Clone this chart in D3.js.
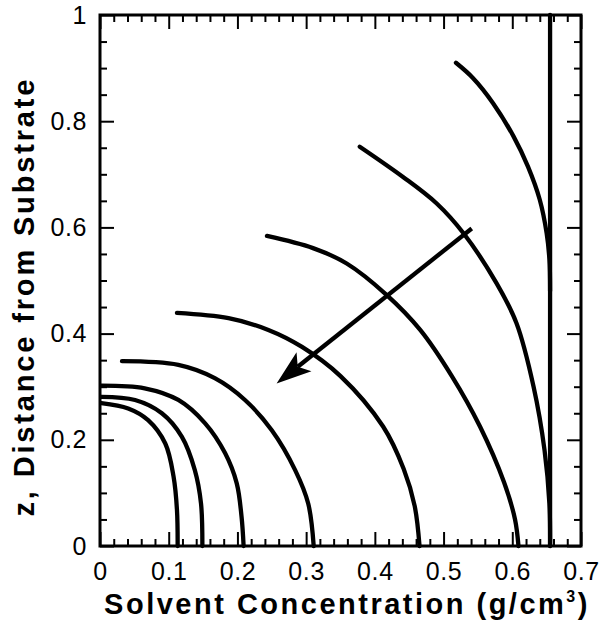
<!DOCTYPE html>
<html>
<head>
<meta charset="utf-8">
<script src="https://cdn.jsdelivr.net/npm/d3@7"></script>
<style>
  body { margin: 0; background: #fff; }
  text { font-family: "Liberation Sans", Arial, sans-serif; fill: #000; }
</style>
</head>
<body>
<svg id="chart" width="599" height="625"></svg>
<script>
// tick values and labels
var xTicks = [0, 0.1, 0.2, 0.3, 0.4, 0.5, 0.6, 0.7];
var xTickLabels = ["0", "0.1", "0.2", "0.3", "0.4", "0.5", "0.6", "0.7"];
var yTicks = [0, 0.2, 0.4, 0.6, 0.8, 1];
var yTickLabels = ["0", "0.2", "0.4", "0.6", "0.8", "1"];

// concentration profiles, [solvent concentration, z]
var profile1 = [[0.002, 0.269], [0.041, 0.259], [0.07, 0.237], [0.095, 0.193], [0.107, 0.131], [0.112, 0.068], [0.113, 0]];
var profile2 = [[0.002, 0.281], [0.051, 0.275], [0.09, 0.25], [0.119, 0.206], [0.138, 0.143], [0.147, 0.08], [0.149, 0]];
var profile3 = [[0.002, 0.302], [0.065, 0.297], [0.114, 0.275], [0.153, 0.231], [0.182, 0.175], [0.199, 0.118], [0.206, 0.055], [0.209, 0]];
var profile4 = [[0.032, 0.348], [0.114, 0.341], [0.167, 0.316], [0.211, 0.275], [0.25, 0.218], [0.284, 0.143], [0.303, 0.08], [0.311, 0]];
var profile5 = [[0.112, 0.439], [0.187, 0.429], [0.245, 0.407], [0.294, 0.375], [0.35, 0.32], [0.412, 0.225], [0.442, 0.145], [0.458, 0.075], [0.465, 0]];
var profile6 = [[0.243, 0.584], [0.31, 0.561], [0.359, 0.532], [0.417, 0.473], [0.466, 0.407], [0.512, 0.32], [0.553, 0.225], [0.588, 0.12], [0.604, 0.05], [0.609, 0]];
var profile7 = [[0.378, 0.752], [0.441, 0.695], [0.49, 0.645], [0.529, 0.589], [0.577, 0.495], [0.606, 0.42], [0.631, 0.3], [0.647, 0.18], [0.654, 0.08], [0.655, 0]];
var profile8 = [[0.518, 0.91], [0.543, 0.881], [0.572, 0.834], [0.602, 0.771], [0.623, 0.714], [0.64, 0.652], [0.65, 0.589], [0.654, 0.54], [0.655, 0.48]];
var profile0 = [[0.655, 0], [0.655, 1]];

var profiles = [profile0, profile1, profile2, profile3, profile4, profile5, profile6, profile7, profile8];

// arrow annotation: from, to
var arrowPts = [[0.541, 0.598], [0.257, 0.306]];

var margin = {top: 15, right: 18, bottom: 79, left: 100};
var svg = d3.select("#chart");
var width = +svg.attr("width") - margin.left - margin.right,
    height = +svg.attr("height") - margin.top - margin.bottom;
var g = svg.append("g").attr("transform", "translate(" + margin.left + "," + margin.top + ")");

var x = d3.scaleLinear().domain([0, 0.7]).range([0, width]);
var y = d3.scaleLinear().domain([0, 1]).range([height, 0]);

var xMinor = d3.range(0, 0.7001, 0.02).filter(function (d) { return Math.abs(d * 10 - Math.round(d * 10)) > 1e-6; });
var yMinor = d3.range(0, 1.0001, 0.05).filter(function (d) { return Math.abs(d * 5 - Math.round(d * 5)) > 1e-6; });

function styleAxis(sel) {
    sel.select(".domain").remove();
    sel.selectAll(".tick line").attr("stroke", "#000").attr("stroke-width", 2);
    sel.selectAll("text").attr("font-size", 25).attr("letter-spacing", 0.6).attr("fill", "#000");
}

// bottom axis: labels + inward major ticks
g.append("g").attr("transform", "translate(0," + height + ")")
    .call(d3.axisBottom(x).tickValues(xTicks).tickSize(-14).tickPadding(16)
        .tickFormat(function (d, i) { return xTickLabels[i]; }))
    .call(styleAxis);
g.append("g").attr("transform", "translate(0," + height + ")")
    .call(d3.axisBottom(x).tickValues(xMinor).tickSize(-7).tickFormat(""))
    .call(styleAxis);
// top axis
g.append("g")
    .call(d3.axisTop(x).tickValues(xTicks).tickSize(-14).tickFormat(""))
    .call(styleAxis);
g.append("g")
    .call(d3.axisTop(x).tickValues(xMinor).tickSize(-7).tickFormat(""))
    .call(styleAxis);
// left axis
g.append("g")
    .call(d3.axisLeft(y).tickValues(yTicks).tickSize(-14).tickPadding(13)
        .tickFormat(function (d, i) { return yTickLabels[i]; }))
    .call(styleAxis);
g.append("g")
    .call(d3.axisLeft(y).tickValues(yMinor).tickSize(-7).tickFormat(""))
    .call(styleAxis);
// right axis
g.append("g").attr("transform", "translate(" + width + ",0)")
    .call(d3.axisRight(y).tickValues(yTicks).tickSize(-14).tickFormat(""))
    .call(styleAxis);
g.append("g").attr("transform", "translate(" + width + ",0)")
    .call(d3.axisRight(y).tickValues(yMinor).tickSize(-7).tickFormat(""))
    .call(styleAxis);

// frame
g.append("rect")
    .attr("x", 0).attr("y", 0)
    .attr("width", width).attr("height", height)
    .attr("fill", "none").attr("stroke", "#000").attr("stroke-width", 3);

// profiles
var line = d3.line()
    .x(function (d) { return x(d[0]); })
    .y(function (d) { return y(d[1]); })
    .curve(d3.curveCatmullRom.alpha(0.5));

g.selectAll(".profile")
    .data(profiles)
    .enter().append("path")
    .attr("class", "profile")
    .attr("d", line)
    .attr("fill", "none")
    .attr("stroke", "#000")
    .attr("stroke-width", 4.3)
    .attr("stroke-linecap", "round");

// arrow
var x1 = x(arrowPts[0][0]), y1 = y(arrowPts[0][1]),
    x2 = x(arrowPts[1][0]), y2 = y(arrowPts[1][1]);
var len = Math.sqrt((x2 - x1) * (x2 - x1) + (y2 - y1) * (y2 - y1));
var ux = (x2 - x1) / len, uy = (y2 - y1) / len;
var headLen = 35, headHalf = 12, notch = 27;
g.append("line")
    .attr("x1", x1).attr("y1", y1)
    .attr("x2", x2 - ux * notch).attr("y2", y2 - uy * notch)
    .attr("stroke", "#000").attr("stroke-width", 4.3);
var bx = x2 - ux * headLen, by = y2 - uy * headLen;
g.append("path")
    .attr("d", "M" + x2 + "," + y2 +
        "L" + (bx - uy * headHalf) + "," + (by + ux * headHalf) +
        "L" + (x2 - ux * notch) + "," + (y2 - uy * notch) +
        "L" + (bx + uy * headHalf) + "," + (by - ux * headHalf) + "Z")
    .attr("fill", "#000");

// axis titles
var xt = svg.append("text")
    .attr("x", 347).attr("y", 614)
    .attr("text-anchor", "middle")
    .attr("font-size", 29).attr("font-weight", "bold")
    .attr("letter-spacing", 2.5);
xt.append("tspan").text("Solvent Concentration (g/cm");
xt.append("tspan").attr("font-size", 16).attr("dy", -12).text("3");
xt.append("tspan").attr("dy", 12).text(")");

svg.append("text")
    .attr("transform", "translate(34,298) rotate(-90)")
    .attr("text-anchor", "middle")
    .attr("font-size", 29).attr("font-weight", "bold")
    .attr("textLength", 437).attr("lengthAdjust", "spacing")
    .text("z, Distance from Substrate");
</script>
</body>
</html>
